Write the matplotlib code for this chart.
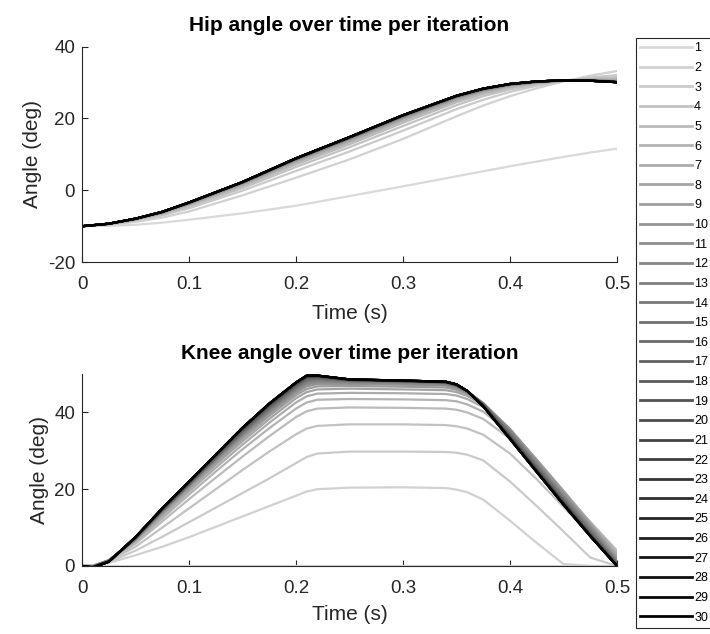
import numpy as np
import matplotlib
matplotlib.use("Agg")
import matplotlib.pyplot as plt

plt.rcParams['font.family'] = ['Liberation Sans', 'DejaVu Sans']
plt.rcParams['axes.unicode_minus'] = False

# time samples (s)
time_hip = [0, 0.025, 0.05, 0.075, 0.1, 0.15, 0.2, 0.25, 0.3, 0.35, 0.375, 0.4, 0.425, 0.45, 0.475, 0.5]
time_knee = [0, 0.01, 0.025, 0.05, 0.075, 0.1, 0.125, 0.15, 0.175, 0.2, 0.21, 0.22, 0.25, 0.3,
             0.34, 0.35, 0.36, 0.375, 0.4, 0.425, 0.45, 0.475, 0.5]

iterations = list(range(1, 31))

# hip angle (deg) per iteration
hip_angles = [
    [-10, -9.9, -9.6, -9.0, -8.2, -6.4, -4.3, -1.6, 1.1, 3.9, 5.3, 6.7, 8.0, 9.3, 10.5, 11.6],
    [-10, -9.6, -8.8, -7.6, -5.9, -1.4, 3.5, 8.6, 14.3, 20.6, 23.6, 26.2, 28.4, 30.3, 31.9, 33.2],
    [-10, -9.5, -8.5, -7.0, -5.0, -0.1, 5.4, 10.8, 16.6, 22.6, 25.2, 27.4, 29.1, 30.4, 31.4, 32.1],
    [-10, -9.4, -8.3, -6.7, -4.5, 0.6, 6.5, 12.0, 17.9, 23.7, 26.2, 28.1, 29.4, 30.5, 31.1, 31.5],
    [-10, -9.4, -8.2, -6.5, -4.2, 1.1, 7.2, 12.8, 18.8, 24.5, 26.8, 28.5, 29.7, 30.5, 30.9, 31.1],
    [-10, -9.4, -8.1, -6.4, -4.0, 1.4, 7.7, 13.4, 19.4, 25.0, 27.2, 28.8, 29.9, 30.5, 30.8, 30.8],
    [-10, -9.4, -8.1, -6.3, -3.8, 1.7, 8.0, 13.7, 19.8, 25.3, 27.5, 29.0, 30.0, 30.5, 30.7, 30.6],
    [-10, -9.3, -8.0, -6.2, -3.7, 1.8, 8.2, 14.0, 20.0, 25.6, 27.7, 29.2, 30.1, 30.6, 30.7, 30.5],
    [-10, -9.3, -8.0, -6.2, -3.7, 1.9, 8.4, 14.2, 20.2, 25.7, 27.8, 29.3, 30.1, 30.6, 30.6, 30.4],
    [-10, -9.3, -8.0, -6.1, -3.6, 2.0, 8.5, 14.3, 20.4, 25.8, 27.9, 29.3, 30.1, 30.6, 30.6, 30.3],
    [-10, -9.3, -7.9, -6.1, -3.5, 2.1, 8.6, 14.4, 20.5, 26.0, 28.0, 29.4, 30.2, 30.6, 30.6, 30.3],
    [-10, -9.3, -7.9, -6.1, -3.5, 2.1, 8.6, 14.5, 20.6, 26.0, 28.1, 29.4, 30.2, 30.6, 30.6, 30.3],
    [-10, -9.3, -7.9, -6.1, -3.5, 2.2, 8.7, 14.6, 20.6, 26.1, 28.1, 29.5, 30.2, 30.6, 30.6, 30.2],
    [-10, -9.3, -7.9, -6.0, -3.5, 2.2, 8.7, 14.6, 20.7, 26.1, 28.2, 29.5, 30.2, 30.6, 30.5, 30.2],
    [-10, -9.3, -7.9, -6.0, -3.5, 2.2, 8.8, 14.6, 20.7, 26.2, 28.2, 29.5, 30.3, 30.6, 30.5, 30.2],
    [-10, -9.3, -7.9, -6.0, -3.4, 2.2, 8.8, 14.7, 20.8, 26.2, 28.2, 29.5, 30.3, 30.6, 30.5, 30.1],
    [-10, -9.3, -7.9, -6.0, -3.4, 2.3, 8.8, 14.7, 20.8, 26.2, 28.2, 29.6, 30.3, 30.6, 30.5, 30.1],
    [-10, -9.3, -7.9, -6.0, -3.4, 2.3, 8.8, 14.7, 20.8, 26.3, 28.3, 29.6, 30.3, 30.6, 30.5, 30.1],
    [-10, -9.3, -7.9, -6.0, -3.4, 2.3, 8.9, 14.7, 20.9, 26.3, 28.3, 29.6, 30.3, 30.6, 30.5, 30.1],
    [-10, -9.3, -7.9, -6.0, -3.4, 2.3, 8.9, 14.8, 20.9, 26.3, 28.3, 29.6, 30.3, 30.6, 30.5, 30.1],
    [-10, -9.3, -7.9, -6.0, -3.4, 2.3, 8.9, 14.8, 20.9, 26.3, 28.3, 29.6, 30.3, 30.6, 30.5, 30.1],
    [-10, -9.3, -7.9, -6.0, -3.4, 2.3, 8.9, 14.8, 20.9, 26.3, 28.3, 29.6, 30.3, 30.6, 30.5, 30.1],
    [-10, -9.3, -7.9, -6.0, -3.4, 2.3, 8.9, 14.8, 20.9, 26.3, 28.3, 29.6, 30.3, 30.6, 30.5, 30.1],
    [-10, -9.3, -7.9, -6.0, -3.4, 2.3, 8.9, 14.8, 20.9, 26.3, 28.3, 29.6, 30.3, 30.6, 30.5, 30.1],
    [-10, -9.3, -7.9, -6.0, -3.4, 2.3, 8.9, 14.8, 20.9, 26.3, 28.3, 29.6, 30.3, 30.6, 30.5, 30.1],
    [-10, -9.3, -7.9, -6.0, -3.4, 2.3, 8.9, 14.8, 20.9, 26.3, 28.3, 29.6, 30.3, 30.6, 30.5, 30.1],
    [-10, -9.3, -7.9, -6.0, -3.4, 2.3, 8.9, 14.8, 20.9, 26.3, 28.3, 29.6, 30.3, 30.6, 30.5, 30.1],
    [-10, -9.3, -7.9, -6.0, -3.4, 2.3, 8.9, 14.8, 20.9, 26.3, 28.3, 29.6, 30.3, 30.6, 30.5, 30.1],
    [-10, -9.3, -7.9, -6.0, -3.4, 2.3, 8.9, 14.8, 20.9, 26.3, 28.3, 29.6, 30.3, 30.6, 30.5, 30.1],
    [-10, -9.3, -7.9, -6.0, -3.4, 2.3, 8.9, 14.8, 20.9, 26.3, 28.3, 29.6, 30.3, 30.6, 30.5, 30.1],
]

# knee angle (deg) per iteration
knee_angles = [
    [0, 0, 0, 0, 0, 0, 0, 0, 0, 0, 0, 0, 0, 0, 0, 0, 0, 0, 0, 0, 0, 0, 0],
    [0, 0, 0.8, 2.8, 5.0, 7.5, 10.2, 12.9, 15.6, 18.3, 19.4, 20.0, 20.4, 20.5, 20.3, 19.9, 19.2, 17.3, 11.8, 6.0, 0.5, 0, 0],
    [0, 0, 1.0, 4.0, 7.6, 11.4, 15.2, 19.0, 22.8, 26.8, 28.4, 29.3, 29.8, 29.8, 29.7, 29.5, 29.0, 27.5, 22.0, 15.6, 9.0, 2.2, 0],
    [0, 0, 1.3, 5.0, 10.0, 15.0, 20.0, 25.0, 29.8, 34.3, 35.8, 36.5, 36.9, 36.9, 36.7, 36.4, 35.8, 34.2, 29.3, 22.6, 15.4, 8.0, 1.2],
    [0, 0, 1.4, 5.8, 11.6, 17.4, 23.0, 28.5, 33.8, 38.8, 40.3, 41.0, 41.3, 41.2, 41.0, 40.7, 40.0, 38.3, 33.2, 26.3, 19.0, 11.5, 4.0],
    [0, 0, 1.5, 6.2, 12.4, 18.6, 24.6, 30.4, 35.9, 41.0, 42.6, 43.3, 43.5, 43.4, 43.2, 42.9, 42.1, 40.2, 34.6, 27.2, 19.5, 11.4, 3.4],
    [0, 0, 1.5, 6.5, 13.0, 19.4, 25.6, 31.6, 37.3, 42.6, 44.2, 44.9, 45.1, 45.0, 44.8, 44.4, 43.5, 41.4, 35.3, 27.6, 19.6, 11.2, 2.9],
    [0, 0, 1.5, 6.7, 13.4, 20.0, 26.4, 32.5, 38.3, 43.7, 45.3, 46.0, 46.2, 46.0, 45.8, 45.3, 44.3, 42.0, 35.6, 27.7, 19.5, 11.0, 2.5],
    [0, 0, 1.5, 6.8, 13.7, 20.4, 26.9, 33.2, 39.1, 44.5, 46.1, 46.8, 46.9, 46.7, 46.5, 45.9, 44.8, 42.3, 35.7, 27.6, 19.3, 10.8, 2.1],
    [0, 0, 1.4, 6.9, 13.9, 20.7, 27.3, 33.7, 39.7, 45.1, 46.8, 47.4, 47.4, 47.2, 47.0, 46.3, 45.1, 42.4, 35.6, 27.3, 18.9, 10.5, 1.8],
    [0, -0.1, 1.4, 7.0, 14.1, 20.9, 27.6, 34.0, 40.1, 45.6, 47.3, 47.8, 47.7, 47.5, 47.3, 46.6, 45.3, 42.4, 35.4, 27.0, 18.5, 10.2, 1.5],
    [0, -0.1, 1.4, 7.0, 14.2, 21.0, 27.8, 34.3, 40.4, 45.9, 47.7, 48.1, 47.9, 47.7, 47.5, 46.8, 45.5, 42.4, 35.2, 26.7, 18.2, 9.8, 1.2],
    [0, -0.2, 1.3, 7.1, 14.3, 21.1, 27.9, 34.5, 40.7, 46.2, 48.0, 48.4, 48.1, 47.9, 47.6, 46.9, 45.5, 42.3, 34.9, 26.4, 17.9, 9.5, 1.0],
    [0, -0.2, 1.3, 7.2, 14.4, 21.2, 28.1, 34.7, 40.9, 46.5, 48.3, 48.6, 48.2, 48.0, 47.7, 47.0, 45.6, 42.2, 34.6, 26.1, 17.6, 9.2, 0.8],
    [0, -0.2, 1.3, 7.2, 14.5, 21.3, 28.2, 34.9, 41.1, 46.7, 48.5, 48.8, 48.3, 48.1, 47.8, 47.0, 45.6, 42.1, 34.4, 25.8, 17.3, 8.9, 0.6],
    [0, -0.3, 1.2, 7.2, 14.6, 21.4, 28.4, 35.1, 41.4, 46.9, 48.8, 49.0, 48.4, 48.1, 47.8, 47.1, 45.6, 42.0, 34.1, 25.5, 17.0, 8.7, 0.5],
    [0, -0.3, 1.2, 7.3, 14.7, 21.5, 28.5, 35.3, 41.6, 47.1, 49.0, 49.2, 48.4, 48.2, 47.9, 47.1, 45.6, 41.9, 33.9, 25.3, 16.8, 8.4, 0.4],
    [0, -0.3, 1.2, 7.3, 14.7, 21.6, 28.6, 35.5, 41.8, 47.3, 49.1, 49.3, 48.5, 48.2, 47.9, 47.2, 45.6, 41.9, 33.7, 25.1, 16.6, 8.2, 0.3],
    [0, -0.3, 1.2, 7.4, 14.8, 21.7, 28.7, 35.6, 41.9, 47.4, 49.2, 49.4, 48.5, 48.2, 47.9, 47.2, 45.6, 41.8, 33.6, 25.0, 16.5, 8.1, 0.2],
    [0, -0.3, 1.2, 7.4, 14.8, 21.8, 28.8, 35.7, 42.0, 47.5, 49.3, 49.4, 48.5, 48.2, 47.9, 47.2, 45.6, 41.8, 33.5, 24.9, 16.4, 8.0, 0.2],
    [0, -0.3, 1.1, 7.4, 14.9, 21.8, 28.8, 35.8, 42.1, 47.6, 49.4, 49.5, 48.5, 48.2, 47.9, 47.2, 45.6, 41.7, 33.4, 24.8, 16.3, 8.0, 0.1],
    [0, -0.4, 1.1, 7.5, 14.9, 21.9, 28.9, 35.9, 42.2, 47.7, 49.5, 49.5, 48.6, 48.3, 48.0, 47.3, 45.6, 41.7, 33.3, 24.7, 16.2, 7.9, 0.1],
    [0, -0.4, 1.1, 7.5, 15.0, 21.9, 28.9, 35.9, 42.2, 47.7, 49.5, 49.6, 48.6, 48.3, 48.0, 47.3, 45.6, 41.7, 33.2, 24.6, 16.1, 7.9, 0.0],
    [0, -0.4, 1.1, 7.5, 15.0, 22.0, 29.0, 36.0, 42.3, 47.8, 49.6, 49.6, 48.6, 48.3, 48.0, 47.3, 45.6, 41.6, 33.2, 24.6, 16.1, 7.8, 0.0],
    [0, -0.4, 1.1, 7.5, 15.0, 22.0, 29.0, 36.0, 42.3, 47.8, 49.6, 49.6, 48.6, 48.3, 48.0, 47.3, 45.6, 41.6, 33.1, 24.5, 16.0, 7.8, 0.0],
    [0, -0.4, 1.1, 7.5, 15.0, 22.0, 29.0, 36.0, 42.3, 47.8, 49.6, 49.6, 48.6, 48.3, 48.0, 47.3, 45.6, 41.6, 33.1, 24.5, 16.0, 7.8, 0.0],
    [0, -0.4, 1.1, 7.5, 15.0, 22.0, 29.0, 36.0, 42.3, 47.8, 49.6, 49.6, 48.6, 48.3, 48.0, 47.3, 45.6, 41.6, 33.1, 24.5, 16.0, 7.8, 0.0],
    [0, -0.4, 1.1, 7.5, 15.0, 22.0, 29.0, 36.0, 42.3, 47.8, 49.6, 49.6, 48.6, 48.3, 48.0, 47.3, 45.6, 41.6, 33.1, 24.5, 16.0, 7.8, 0.0],
    [0, -0.4, 1.1, 7.5, 15.0, 22.0, 29.0, 36.0, 42.3, 47.8, 49.6, 49.6, 48.6, 48.3, 48.0, 47.3, 45.6, 41.6, 33.1, 24.5, 16.0, 7.8, 0.0],
    [0, -0.4, 1.1, 7.5, 15.0, 22.0, 29.0, 36.0, 42.3, 47.8, 49.6, 49.6, 48.6, 48.3, 48.0, 47.3, 45.6, 41.6, 33.1, 24.5, 16.0, 7.8, 0.0],
]

axis_col = (0.15, 0.15, 0.15)
grays = np.linspace(0.85, 0.0, len(iterations))

fig = plt.figure(figsize=(7.1, 6.34), dpi=100)
ax1 = fig.add_axes([0.1155, 0.5865, 0.7535, 0.340])
ax2 = fig.add_axes([0.1155, 0.1073, 0.7535, 0.3027])

for i, it in enumerate(iterations):
	c = (grays[i], grays[i], grays[i])
	ax1.plot(time_hip, hip_angles[i], color=c, lw=1.6, label=str(it))
	ax2.plot(time_knee, knee_angles[i], color=c, lw=1.6)


def style(ax, title, ylim, yticks, xlabelpad):
	ax.set_xlim(0, 0.5)
	ax.set_ylim(*ylim)
	ax.set_xticks([0, 0.1, 0.2, 0.3, 0.4, 0.5])
	ax.set_xticklabels(['0', '0.1', '0.2', '0.3', '0.4', '0.5'])
	ax.set_yticks(yticks)
	for s in ['top', 'right']:
		ax.spines[s].set_visible(False)
	for s in ['left', 'bottom']:
		ax.spines[s].set_color(axis_col)
		ax.spines[s].set_linewidth(0.8)
	ax.tick_params(direction='in', length=4, width=0.8, colors=axis_col, labelsize=13.5, pad=5)
	ax.tick_params(axis='x', pad=10)
	ax.set_xlabel('Time (s)', fontsize=15, color=axis_col, labelpad=xlabelpad)
	ax.set_ylabel('Angle (deg)', fontsize=15, color=axis_col, labelpad=4)
	ax.set_title(title, fontsize=15, fontweight='bold', pad=11)


style(ax1, 'Hip angle over time per iteration', (-20, 40), [-20, 0, 20, 40], 8)
style(ax2, 'Knee angle over time per iteration', (0, 50), [0, 20, 40], 6)

leg = ax1.legend(loc='upper left', bbox_to_anchor=(0.8958, 0.94), bbox_transform=fig.transFigure,
                 fontsize=9, handlelength=4.1, handletextpad=0.2, labelspacing=0.61,
                 borderpad=0.35, borderaxespad=0, fancybox=False, framealpha=1)
leg.get_frame().set_edgecolor(axis_col)
leg.get_frame().set_linewidth(0.8)
for line in leg.get_lines():
	line.set_linewidth(2)

fig.savefig('out.png', dpi=100)
